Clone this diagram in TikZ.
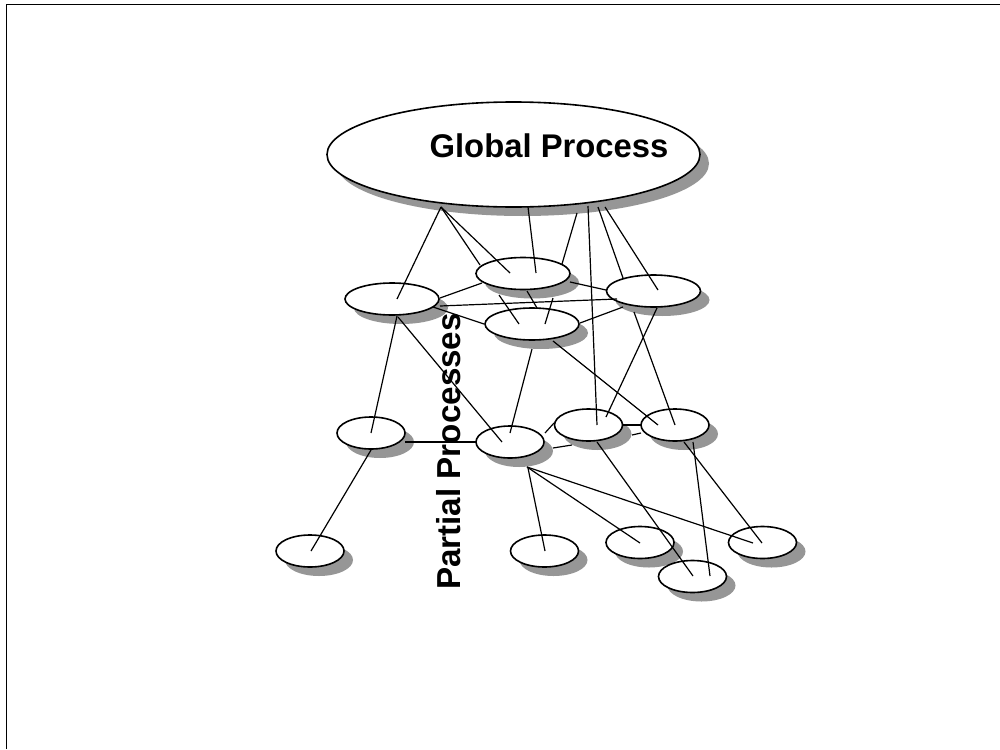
\documentclass[tikz,border=0pt]{standalone}
\usepackage{fontspec}
\setmainfont{Liberation Sans}
\usetikzlibrary{shapes.geometric,calc}
\definecolor{shadowgray}{RGB}{150,150,150}
\begin{document}
\begin{tikzpicture}[x=0.5pt,y=-0.5pt,
  proc/.style={ellipse, draw=black, line width=0.8pt, fill=white, inner sep=0pt, outer sep=0pt,
    preaction={draw=none, fill=shadowgray, transform canvas={xshift=4.5pt,yshift=-4.5pt}}},
  bigproc/.style={proc, minimum width=47pt, minimum height=16pt},
  smallproc/.style={proc, minimum width=34pt, minimum height=16pt},
  link/.style={line width=0.6pt, draw=black},
  lbl/.style={font=\fontsize{16.4}{19}\selectfont\bfseries, inner sep=0pt},
  lbltwo/.style={font=\fontsize{16.6}{19}\selectfont\bfseries, inner sep=0pt}]
\fill[white] (0,0) rectangle (1000,749);
\useasboundingbox (0,0) rectangle (1000,749);
% frame
\draw[line width=0.8pt] (6.5,749) -- (6.5,4.5) -- (1000,4.5);
% global process
\node[proc, minimum width=186.5pt, minimum height=52.5pt] (GP) at (513.5,154.5) {};
\node[lbl, anchor=base] (gt) at (549,157) {Global Process};
% level 1
\node[bigproc] (A) at (392,299) {};
\node[bigproc] (B) at (523,273.5) {};
\node[bigproc] (C) at (653.5,291) {};
\node[bigproc] (D) at (532,324) {};
% level 2
\node[smallproc] (E) at (371,433) {};
\node[smallproc] (F) at (510,442) {};
\node[smallproc] (G) at (588.5,425) {};
\node[smallproc] (H) at (675,425) {};
% level 3
\node[smallproc] (I) at (310,551) {};
\node[smallproc] (J) at (544.5,551) {};
\node[smallproc] (K) at (640,542.5) {};
\node[smallproc] (L) at (762.5,542.5) {};
\node[smallproc] (M) at (692.5,576.5) {};
% label
\node[lbltwo, rotate=90, anchor=base] (pt) at (460,451.5) {Partial Processes};
% global links
\draw[link] ($(GP.center)+(-72.5,52.5)$) -- ($(A.center)+(5,0)$);
\draw[link] ($(GP.center)+(-72.5,52.5)$) -- ($(B.center)+(-43,-8.5)$);
\draw[link] ($(GP.center)+(-72.5,52.5)$) -- ($(B.center)+(-13,-0.5)$);
\draw[link] ($(GP.center)+(14.5,52.5)$) -- ($(B.center)+(13,-0.5)$);
\draw[link] ($(GP.center)+(63.5,58.5)$) -- ($(B.center)+(39,-9.5)$);
\draw[link] ($(GP.center)+(74.5,51.5)$) -- ($(G.center)+(8.5,0)$);
\draw[link] ($(GP.center)+(84.5,52.5)$) -- ($(C.center)+(-30.5,-13)$);
\draw[link] ($(GP.center)+(91.5,52.5)$) -- ($(C.center)+(4.5,-1)$);
% level 1 links
\draw[link] ($(A.center)+(48,-1)$) -- ($(B.center)+(-41,9.5)$);
\draw[link] ($(B.center)+(47,8.5)$) -- ($(C.center)+(-47.5,-1)$);
\draw[link] ($(A.center)+(48,7)$) -- ($(C.center)+(-36.5,8)$);
\draw[link] ($(A.center)+(41,8)$) -- ($(D.center)+(-48,0)$);
\draw[link] ($(B.center)+(-24,21.5)$) -- ($(D.center)+(-13,0)$);
\draw[link] ($(B.center)+(4,17.5)$) -- ($(D.center)+(5,-16)$);
\draw[link] ($(B.center)+(30,24.5)$) -- ($(D.center)+(13,0)$);
\draw[link] ($(D.center)+(48,-1)$) -- ($(C.center)+(-30.5,16)$);
\draw[link] ($(A.center)+(5,17)$) -- ($(E.center)+(0,0)$);
\draw[link] ($(A.center)+(6,18)$) -- ($(F.center)+(-8,0)$);
\draw[link] ($(D.center)+(0,25)$) -- ($(F.center)+(0,-9)$);
\draw[link] ($(D.center)+(21,17)$) -- ($(H.center)+(-17,0)$);
\draw[link] ($(C.center)+(3.5,17)$) -- ($(G.center)+(17.5,-8)$);
\draw[link] ($(C.center)+(-19.5,21)$) -- ($(H.center)+(0,0)$);
% level 2 links
\draw[link] ($(E.center)+(34,9)$) -- ($(F.center)+(-34,0)$);
\draw[link] ($(F.center)+(35,-9)$) -- ($(G.center)+(-34.5,-2)$);
\draw[link] ($(F.center)+(43,6)$) -- ($(G.center)+(-16.5,20)$);
\draw[link] ($(G.center)+(34.5,0)$) -- ($(H.center)+(-34,0)$);
\draw[link] ($(G.center)+(43.5,10)$) -- ($(H.center)+(-34,8)$);
\draw[link] ($(E.center)+(0,17)$) -- ($(I.center)+(1,0)$);
\draw[link] ($(F.center)+(18,26)$) -- ($(J.center)+(0.5,0)$);
\draw[link] ($(F.center)+(17,25)$) -- ($(K.center)+(0,0.5)$);
\draw[link] ($(F.center)+(17,25)$) -- ($(L.center)+(-9.5,0.5)$);
\draw[link] ($(G.center)+(8.5,17)$) -- ($(M.center)+(0.5,-0.5)$);
\draw[link] ($(H.center)+(18,17)$) -- ($(M.center)+(17.5,-0.5)$);
\draw[link] ($(H.center)+(9,17)$) -- ($(L.center)+(-0.5,0.5)$);
\end{tikzpicture}
\end{document}
